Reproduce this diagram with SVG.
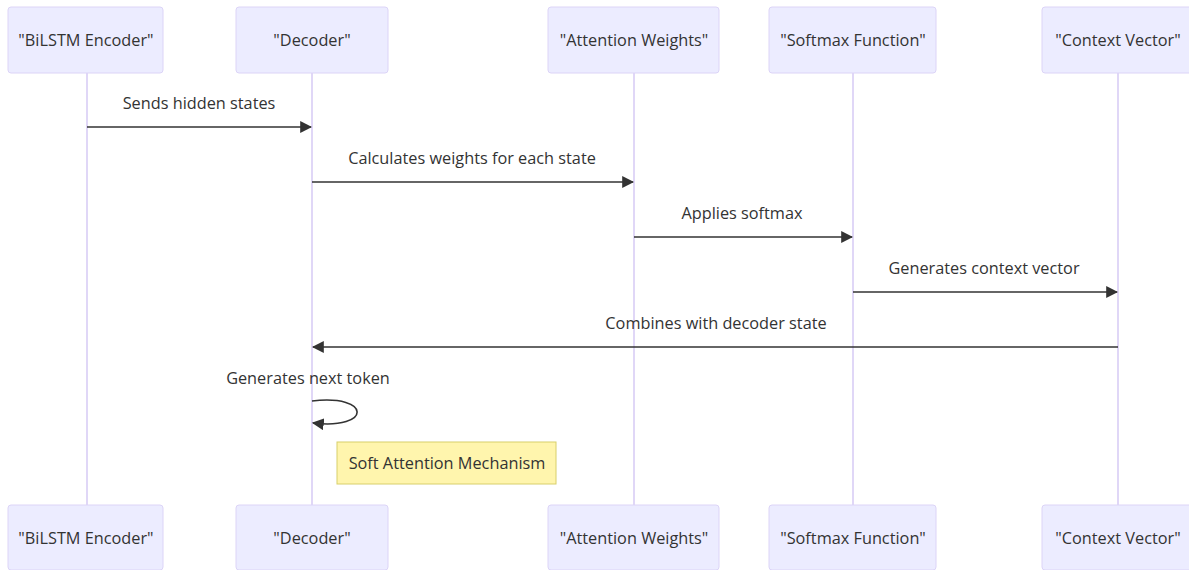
<svg xmlns="http://www.w3.org/2000/svg" width="1189" height="570" viewBox="0 0 1189 570">
<style>
.actor{fill:#ECECFF;stroke:#dcd4f7;stroke-width:1}
.atext{font-family:"Open Sans","Liberation Sans",sans-serif;font-size:16.3px;fill:#333;text-anchor:middle;dominant-baseline:central}
.life{stroke:#cbbdf2;stroke-width:1.2}
.msg{stroke:#333;stroke-width:1.6;fill:none}
.mtext{font-family:"Open Sans","Liberation Sans",sans-serif;font-size:16.3px;fill:#333;text-anchor:middle;dominant-baseline:central}
.note{fill:#FFF5AD;stroke:#d8cf6a;stroke-width:1}
</style>
<defs>
<marker id="arrow" viewBox="0 0 10 10" refX="9" refY="5" markerWidth="12" markerHeight="12" markerUnits="userSpaceOnUse" orient="auto">
<path d="M0,0 L10,5 L0,10 z" fill="#333"/>
</marker>
</defs>
<rect width="1189" height="570" fill="#fff"/>
<g id="lifelines">
<line class="life" x1="87" y1="73" x2="87" y2="505"/>
<line class="life" x1="312" y1="73" x2="312" y2="505"/>
<line class="life" x1="634" y1="73" x2="634" y2="505"/>
<line class="life" x1="853" y1="73" x2="853" y2="505"/>
<line class="life" x1="1118" y1="73" x2="1118" y2="505"/>
</g>
<g id="actor-bilstm-top"><rect class="actor" x="8" y="7" width="155" height="66" rx="3"/><text class="atext" x="86" y="40">"BiLSTM Encoder"</text></g>
<g id="actor-decoder-top"><rect class="actor" x="236" y="7" width="152" height="66" rx="3"/><text class="atext" x="312" y="40">"Decoder"</text></g>
<g id="actor-attention-top"><rect class="actor" x="548" y="7" width="171" height="66" rx="3"/><text class="atext" x="634" y="40">"Attention Weights"</text></g>
<g id="actor-softmax-top"><rect class="actor" x="769" y="7" width="167" height="66" rx="3"/><text class="atext" x="853" y="40">"Softmax Function"</text></g>
<g id="actor-context-top"><rect class="actor" x="1042" y="7" width="152" height="66" rx="3"/><text class="atext" x="1118" y="40">"Context Vector"</text></g>
<g id="actor-bilstm-bottom"><rect class="actor" x="8" y="505" width="155" height="65" rx="3"/><text class="atext" x="86" y="538">"BiLSTM Encoder"</text></g>
<g id="actor-decoder-bottom"><rect class="actor" x="236" y="505" width="152" height="65" rx="3"/><text class="atext" x="312" y="538">"Decoder"</text></g>
<g id="actor-attention-bottom"><rect class="actor" x="548" y="505" width="171" height="65" rx="3"/><text class="atext" x="634" y="538">"Attention Weights"</text></g>
<g id="actor-softmax-bottom"><rect class="actor" x="769" y="505" width="167" height="65" rx="3"/><text class="atext" x="853" y="538">"Softmax Function"</text></g>
<g id="actor-context-bottom"><rect class="actor" x="1042" y="505" width="152" height="65" rx="3"/><text class="atext" x="1118" y="538">"Context Vector"</text></g>
<g id="connectors">
<line class="msg" x1="87" y1="127" x2="311" y2="127" marker-end="url(#arrow)"/>
<text class="mtext" x="199" y="103">Sends hidden states</text>
<line class="msg" x1="312" y1="182" x2="633" y2="182" marker-end="url(#arrow)"/>
<text class="mtext" x="472" y="158">Calculates weights for each state</text>
<line class="msg" x1="634" y1="237" x2="852" y2="237" marker-end="url(#arrow)"/>
<text class="mtext" x="742" y="213">Applies softmax</text>
<line class="msg" x1="853" y1="292" x2="1117" y2="292" marker-end="url(#arrow)"/>
<text class="mtext" x="984" y="268">Generates context vector</text>
<line class="msg" x1="1118" y1="347" x2="313" y2="347" marker-end="url(#arrow)"/>
<text class="mtext" x="716" y="323">Combines with decoder state</text>
<path class="msg" d="M312,401 C372,394 372,430 313,423" marker-end="url(#arrow)"/>
<text class="mtext" x="308" y="378">Generates next token</text>
</g>
<g id="note">
<rect class="note" x="337" y="442" width="219" height="42"/>
<text class="mtext" x="447" y="463">Soft Attention Mechanism</text>
</g>
</svg>
